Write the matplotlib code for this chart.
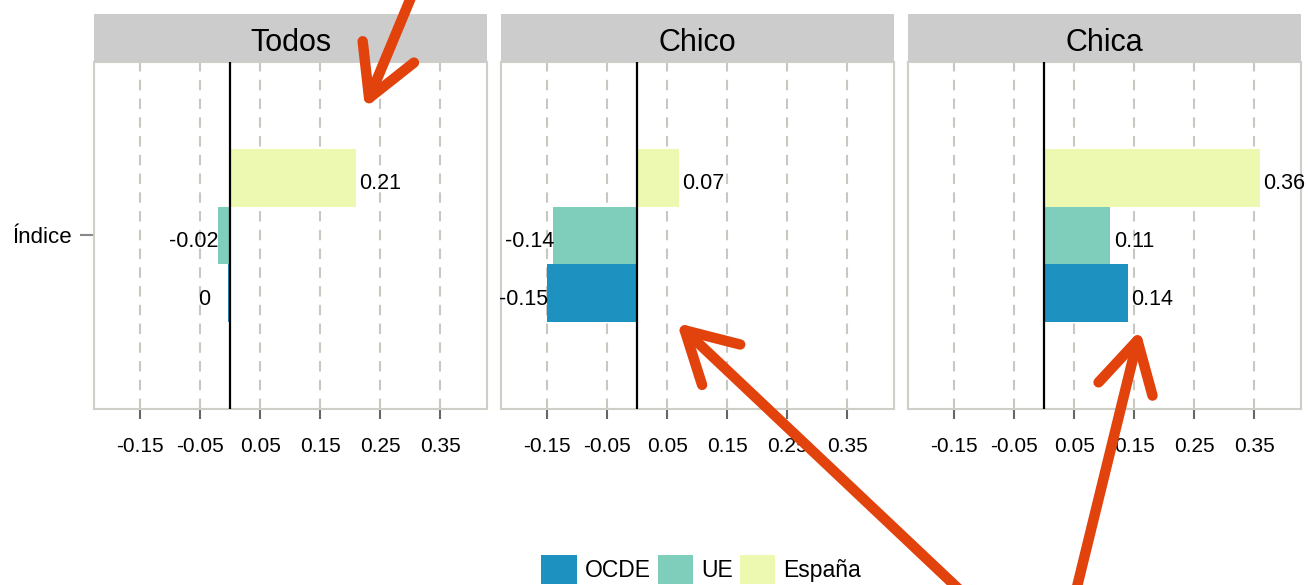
import matplotlib
matplotlib.use("Agg")
import matplotlib.pyplot as plt
from matplotlib.patches import Patch, Rectangle, FancyArrowPatch

plt.rcParams['font.family'] = ['Liberation Sans', 'DejaVu Sans']

# data
panels = ['Todos', 'Chico', 'Chica']
groups = ['OCDE', 'UE', 'España']
colors = ['#1D91C0', '#7FCDBB', '#EDF8B1']
values = {
    'Todos': [-0.003, -0.02, 0.21],
    'Chico': [-0.15, -0.14, 0.07],
    'Chica': [0.14, 0.11, 0.36],
}
xticks = [-0.15, -0.05, 0.05, 0.15, 0.25, 0.35]
xtick_labels = ['-0.15', '-0.05', '0.05', '0.15', '0.25', '0.35']
ylab = 'Índice'

W, H = 1308, 585
fig = plt.figure(figsize=(W / 100, H / 100), dpi=100)

def px(x0, y0, x1, y1):
    return [x0 / W, 1 - y1 / H, (x1 - x0) / W, (y1 - y0) / H]

lefts = [94, 501, 908]
pw = 393
ybars = [0.7, 1.0, 1.3]

for i, name in enumerate(panels):
    ax = fig.add_axes(px(lefts[i], 62, lefts[i] + pw, 409))
    ax.set_xlim(-0.227, 0.428)
    ax.set_ylim(0.1, 1.9)
    for t in xticks:
        ax.axvline(t, color='#C8C8C0', lw=1.5, ls=(0, (5, 4)), zorder=0)
    vals = values[name]
    ax.barh(ybars, vals, height=0.3, color=colors, zorder=2)
    ax.axvline(0, color='black', lw=1.6, zorder=3)
    for y, v in zip(ybars, vals):
        lab = '{:g}'.format(round(v, 2) + 0.0)
        xt = v + 0.04 if v > 0 else v - 0.04
        ax.text(xt, y - 0.03, lab, ha='center', va='center', fontsize=15.5,
                color='black', zorder=4)
    ax.set_xticks(xticks)
    ax.set_xticklabels(xtick_labels, fontsize=15)
    ax.tick_params(axis='x', length=7, width=1.5, color='#666666', pad=13)
    if i == 0:
        ax.set_yticks([1.0])
        ax.set_yticklabels([ylab], fontsize=16)
        ax.tick_params(axis='y', length=10, width=1.5, color='#888888', pad=6)
    else:
        ax.set_yticks([])
    for s in ax.spines.values():
        s.set_color('#CFCFC7')
        s.set_linewidth(1.5)
    # facet strip
    sax = fig.add_axes(px(lefts[i], 14, lefts[i] + pw, 62))
    sax.add_patch(Rectangle((0, 0), 1, 1, color='#CCCCCC', transform=sax.transAxes))
    sax.set_axis_off()
    sax.text(0.5, 0.4, name, ha='center', va='center', fontsize=22, transform=sax.transAxes)

handles = [Patch(facecolor=c, edgecolor='none') for c in colors]
fig.legend(handles, groups, loc='center', bbox_to_anchor=(0.536, 0.026), ncol=3,
           frameon=False, fontsize=16.5, handlelength=1.55, handleheight=1.55,
           handletextpad=0.35, columnspacing=0.3, borderpad=0)

# red arrows drawn over the chart
arrows = [((412, -5), (365, 108)), ((965, 595), (677, 323)), ((1075, 595), (1140, 330))]
for tail, tip in arrows:
    fig.add_artist(FancyArrowPatch(
        (tail[0] / W, 1 - tail[1] / H), (tip[0] / W, 1 - tip[1] / H),
        transform=fig.transFigure, arrowstyle='->,head_length=1.8,head_width=1.0',
        mutation_scale=20, lw=7.5, color='#E2420C', capstyle='round',
        joinstyle='round', shrinkA=0, shrinkB=0))

fig.savefig('out.png', dpi=100)
